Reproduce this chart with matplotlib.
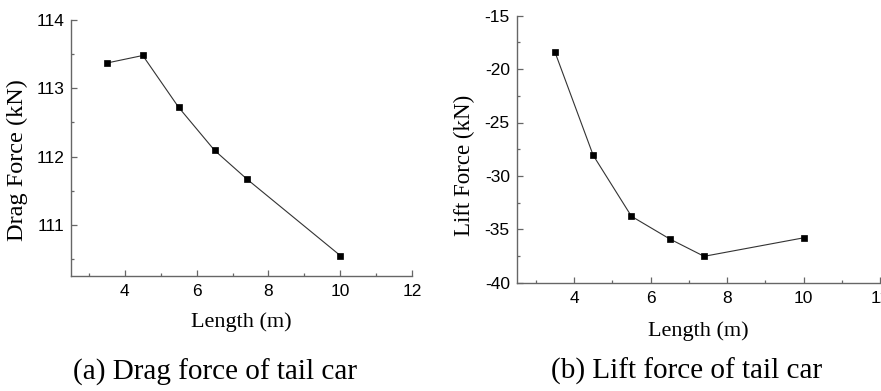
import matplotlib
matplotlib.use("Agg")
import matplotlib.pyplot as plt
from matplotlib.ticker import MultipleLocator

plt.rcParams["axes.unicode_minus"] = False

length = [3.5, 4.5, 5.5, 6.5, 7.4, 10.0]
drag = [113.37, 113.48, 112.72, 112.09, 111.67, 110.55]
lift = [-18.4, -28.07, -33.78, -35.9, -37.53, -35.8]

xticks = [4, 6, 8, 10, 12]
drag_ticks = [111, 112, 113, 114]
lift_ticks = [-40, -35, -30, -25, -20, -15]

sans = "Liberation Sans"
serif = "Liberation Serif"

fig = plt.figure(figsize=(8.81, 3.91), dpi=100)
W, H = 881, 391

def add_ax(l, r, t, b):
    return fig.add_axes([l / W, (H - b) / H, (r - l) / W, (b - t) / H])

ax1 = add_ax(71, 412, 20, 276)
ax2 = add_ax(516.7, 880, 15.7, 282.7)

spine_c = "#666666"
for ax, y, ylab, yfs, ylim, yt, ymin, ylc, xlc in [
    (ax1, drag, "Drag Force (kN)", 17.5, (110.25, 114), drag_ticks, 0.5, (-0.158, 0.453), -0.18),
    (ax2, lift, "Lift Force (kN)", 16.5, (-40, -15), lift_ticks, 2.5, (-0.145, 0.44), -0.181),
]:
    ax.plot(length, y, color="#333333", lw=0.8, marker="s", ms=4.8,
            mfc="black", mec="black", mew=0.5)
    ax.set_xlim(2.5, 12)
    ax.set_ylim(*ylim)
    ax.set_xticks(xticks)
    ax.set_yticks(yt)
    ax.xaxis.set_minor_locator(MultipleLocator(1))
    ax.yaxis.set_minor_locator(MultipleLocator(ymin))
    for s in ["top", "right"]:
        ax.spines[s].set_visible(False)
    for s in ["left", "bottom"]:
        ax.spines[s].set_color(spine_c)
        ax.spines[s].set_linewidth(1.0)
    ax.tick_params(which="both", direction="in", color=spine_c, width=0.9)
    ax.tick_params(which="major", length=4)
    ax.tick_params(which="minor", length=2.5)
    ax.tick_params(axis="x", which="major", pad=6)
    ax.tick_params(axis="y", which="major", pad=5)
    for lab in ax.get_xticklabels() + ax.get_yticklabels():
        lab.set_fontfamily(sans)
        lab.set_fontsize(12.5)
    ax.set_ylabel(ylab, fontfamily=serif, fontsize=yfs)
    ax.yaxis.set_label_coords(*ylc)
    ax.set_xlabel("Length (m)", fontfamily=serif, fontsize=16)
    ax.xaxis.set_label_coords(0.5, xlc)
    ax.xaxis.label.set_va("center")
    ax.yaxis.label.set_va("center")
    ax.patch.set_alpha(0)

fig.text(215 / W, (H - 372) / H, "(a) Drag force of tail car", fontfamily=serif,
         fontsize=21, ha="center", va="center")
fig.text(687 / W, (H - 371) / H, "(b) Lift force of tail car", fontfamily=serif,
         fontsize=21, ha="center", va="center")

fig.savefig("out.png", dpi=100)
